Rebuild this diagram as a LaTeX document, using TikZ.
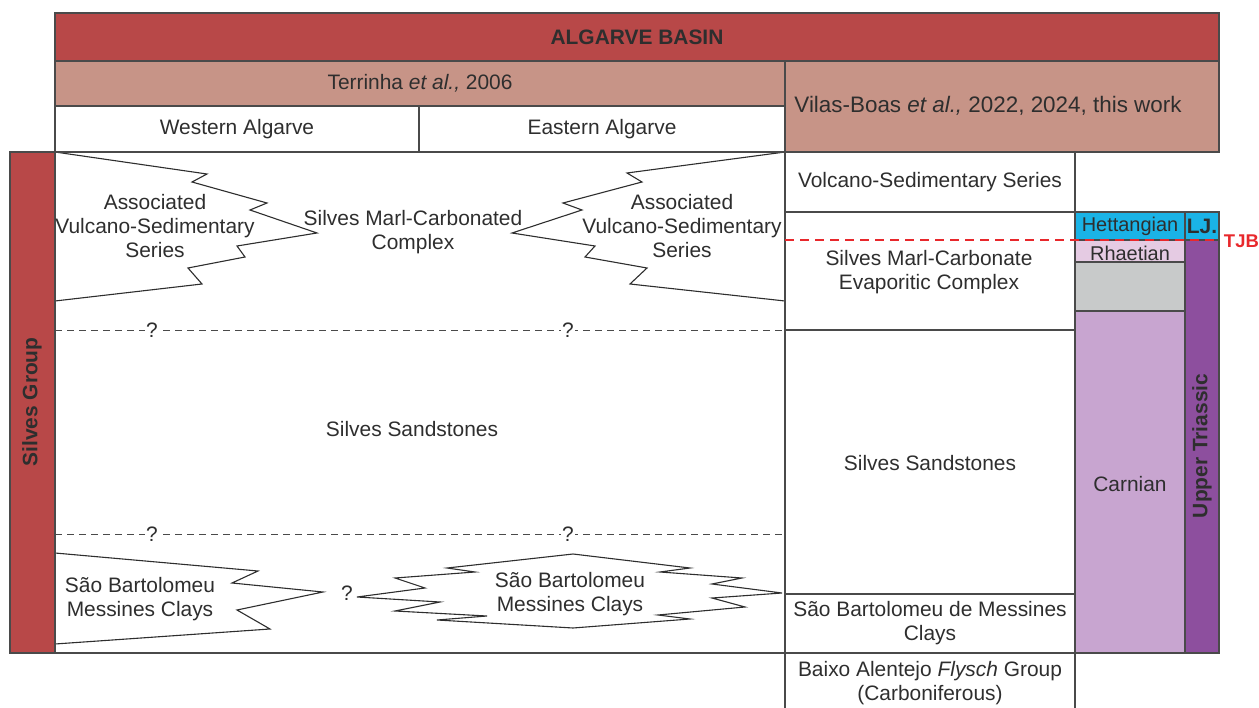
\documentclass[tikz,border=0pt]{standalone}
\usepackage{fontspec}
\setmainfont{Liberation Sans}
\definecolor{basinred}{HTML}{B84848}
\definecolor{salmon}{HTML}{C79487}
\definecolor{framegray}{HTML}{4A4A4A}
\definecolor{inkgray}{HTML}{2E2E2E}
\definecolor{hettcyan}{HTML}{1AB3E6}
\definecolor{rhaetpink}{HTML}{E5CBE3}
\definecolor{norgray}{HTML}{C8CACA}
\definecolor{carnlilac}{HTML}{C8A5D0}
\definecolor{triaspurple}{HTML}{8D4F9E}
\definecolor{tjbred}{HTML}{E8282C}

\begin{document}
\begin{tikzpicture}[x=1bp, y=-1bp,
  frame/.style={draw=framegray, line width=1.2bp},
  tongue/.style={draw=inkgray, line width=1.1bp, fill=white, line join=miter},
  contact/.style={framegray, line width=1bp, dash pattern=on 7bp off 5bp},
  tjbline/.style={tjbred, line width=2bp, dash pattern=on 9bp off 6bp},
  label/.style={inkgray, font=\fontsize{21}{24}\selectfont, align=center, inner sep=0pt},
  bold label/.style={label, font=\fontsize{21}{24}\selectfont\bfseries},
  query/.style={label, fill=white, inner sep=1.5bp},
]
\useasboundingbox (0,0) rectangle (1259,708);

% ===== Header =====
\draw[frame, fill=basinred] (55,13) rectangle (1219,61);
\draw[frame, fill=salmon] (55,61) rectangle (785,106);
\draw[frame, fill=salmon] (785,61) rectangle (1219,152);
\draw[frame] (55,106) rectangle (419,152);
\draw[frame] (419,106) rectangle (785,152);
\node[bold label] (basin) at (637,37) {ALGARVE BASIN};
\node[label] (terrinha) at (420,83) {Terrinha \textit{et al.,} 2006};
\node[label, font=\fontsize{22.5}{25}\selectfont] (vilasboas) at (988,106) {Vilas-Boas \textit{et al.,} 2022, 2024, this work};
\node[label] (western) at (237,129) {Western Algarve};
\node[label] (eastern) at (602,129) {Eastern Algarve};

% ===== Silves Group bar =====
\draw[frame, fill=basinred] (10,152) rectangle (55,653);
\node[bold label, rotate=90] (silvesgroup) at (32,402) {Silves Group};

% ===== Terrinha columns: tongues =====
% volcano-sedimentary wedge, west
\draw[tongue] (55,152) -- (207,174) -- (192,182) -- (267,203) -- (250,210)
  -- (317,233) -- (237,246) -- (245,257) -- (188,268) -- (202,284) -- (55,301);
% volcano-sedimentary wedge, east
\draw[tongue] (785,152) -- (627,173) -- (642,182) -- (563,203) -- (582,210)
  -- (512,233) -- (595,246) -- (585,257) -- (647,268) -- (630,284) -- (785,301);
% clays wedge, west
\draw[tongue] (55,553) -- (258,571) -- (232,583) -- (323,592) -- (237,610)
  -- (270,629) -- (55,644);
% clays lens, east
\draw[tongue] (357,597) -- (425,588) -- (395,578) -- (475,572) -- (447,568)
  -- (573,554) -- (690,568) -- (660,572) -- (742,578) -- (712,584)
  -- (782,593) -- (712,598) -- (745,607) -- (658,615) -- (690,619)
  -- (573,628) -- (437,620) -- (487,616) -- (395,611) -- (440,602) -- cycle;

\draw[frame] (55,152) rectangle (785,653);

% uncertain contacts
\coordinate (upper-w) at (55,330);
\coordinate (upper-e) at (785,330);
\coordinate (lower-w) at (55,534);
\coordinate (lower-e) at (785,534);
\draw[contact] (upper-w) -- (upper-e);
\draw[contact] (lower-w) -- (lower-e);
\node[query] (q-upper-w) at (152,330) {?};
\node[query] (q-upper-e) at (568,330) {?};
\node[query] (q-lower-w) at (152,534) {?};
\node[query] (q-lower-e) at (568,534) {?};
\node[label] (q-clays) at (347,593) {?};

\node[label] (avs-west) at (155,226) {Associated\\Vulcano-Sedimentary\\Series};
\node[label] (avs-east) at (682,226) {Associated\\Vulcano-Sedimentary\\Series};
\node[label] (marl-west) at (413,232) {Silves Marl-Carbonated\\Complex};
\node[label] (sand-west) at (412,429) {Silves Sandstones};
\node[label] (clays-west) at (140,599) {São Bartolomeu\\Messines Clays};
\node[label] (clays-east) at (570,594) {São Bartolomeu\\Messines Clays};

% ===== This work column =====
\draw[frame] (785,152) rectangle (1075,212);
\draw[frame] (785,212) rectangle (1075,330);
\draw[frame] (785,330) rectangle (1075,594);
\draw[frame] (785,594) rectangle (1075,653);
\draw[frame] (785,653) -- (785,708);
\draw[frame] (1075,653) -- (1075,708);
\node[label] (volcano) at (930,182) {Volcano-Sedimentary Series};
\node[label] (evaporitic) at (929,272) {Silves Marl-Carbonate\\Evaporitic Complex};
\node[label] (sand-east) at (930,463) {Silves Sandstones};
\node[label] (clays-col) at (930,623) {São Bartolomeu de Messines\\Clays};
\node[label] (flysch) at (930,683) {Baixo Alentejo \textit{Flysch} Group\\(Carboniferous)};

% ===== Chronostratigraphy =====
\draw[frame, fill=hettcyan] (1075,212) rectangle (1185,240);
\draw[frame, fill=hettcyan] (1185,212) rectangle (1219,240);
\draw[frame, fill=rhaetpink] (1075,240) rectangle (1185,262);
\draw[frame, fill=norgray] (1075,262) rectangle (1185,311);
\draw[frame, fill=carnlilac] (1075,311) rectangle (1185,653);
\draw[frame, fill=triaspurple] (1185,240) rectangle (1219,653);
\draw[frame] (10,653) -- (1219,653);
\node[label, font=\fontsize{20}{24}\selectfont] (hettangian) at (1130,226) {Hettangian};
\node[bold label] (lj) at (1202,226) {LJ.};
\node[label, font=\fontsize{20}{24}\selectfont] (rhaetian) at (1130,253) {Rhaetian};
\node[label] (carnian) at (1130,484) {Carnian};
\node[bold label, rotate=90] (uppertrias) at (1202,446) {Upper Triassic};

% Triassic-Jurassic boundary
\coordinate (tjb-w) at (785,240);
\coordinate (tjb-e) at (1219,240);
\draw[tjbline] (tjb-w) -- (tjb-e);
\node[bold label, tjbred, font=\fontsize{18.5}{22}\selectfont\bfseries, anchor=east] (tjb) at (1259,241) {TJB};

\end{tikzpicture}
\end{document}
